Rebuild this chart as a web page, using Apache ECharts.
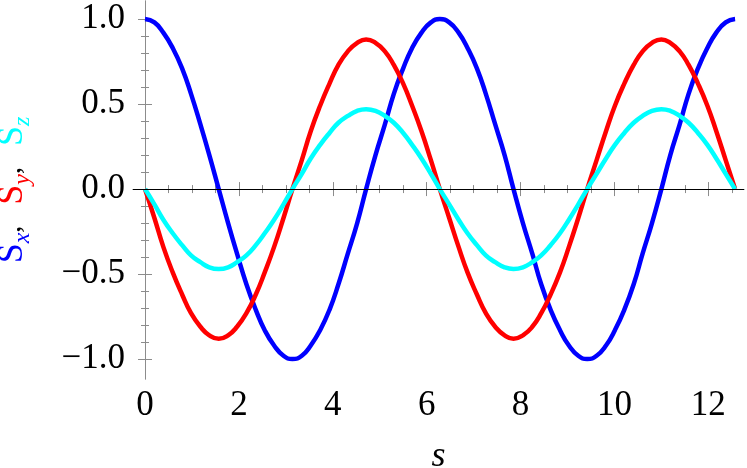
<!DOCTYPE html>
<html>
<head>
<meta charset="utf-8">
<script src="https://cdn.jsdelivr.net/npm/echarts@6/dist/echarts.min.js"></script>
<style>
  html, body { margin: 0; padding: 0; background: #fff; }
  #chart { width: 747px; height: 468px; }
</style>
</head>
<body>
<div id="chart"></div>
<script>
// s values (0 .. 4pi), step pi/16
const sVals = [0, 0.20, 0.39, 0.59, 0.79, 0.98, 1.18, 1.37, 1.57, 1.77, 1.96, 2.16, 2.36, 2.55, 2.75, 2.95,
  3.14, 3.34, 3.53, 3.73, 3.93, 4.12, 4.32, 4.52, 4.71, 4.91, 5.11, 5.30, 5.50, 5.69, 5.89, 6.09,
  6.28, 6.48, 6.68, 6.87, 7.07, 7.26, 7.46, 7.66, 7.85, 8.05, 8.25, 8.44, 8.64, 8.84, 9.03, 9.23,
  9.42, 9.62, 9.82, 10.01, 10.21, 10.41, 10.60, 10.80, 11.00, 11.19, 11.39, 11.58, 11.78, 11.98, 12.17, 12.37,
  12.57];
const sxVals = [1, 0.98, 0.92, 0.83, 0.71, 0.56, 0.38, 0.20, 0, -0.20, -0.38, -0.56, -0.71, -0.83, -0.92, -0.98,
  -1, -0.98, -0.92, -0.83, -0.71, -0.56, -0.38, -0.20, 0, 0.20, 0.38, 0.56, 0.71, 0.83, 0.92, 0.98,
  1, 0.98, 0.92, 0.83, 0.71, 0.56, 0.38, 0.20, 0, -0.20, -0.38, -0.56, -0.71, -0.83, -0.92, -0.98,
  -1, -0.98, -0.92, -0.83, -0.71, -0.56, -0.38, -0.20, 0, 0.20, 0.38, 0.56, 0.71, 0.83, 0.92, 0.98,
  1];
const syVals = [0, -0.17, -0.34, -0.49, -0.62, -0.73, -0.81, -0.86, -0.88, -0.86, -0.81, -0.73, -0.62, -0.49, -0.34, -0.17,
  0, 0.17, 0.34, 0.49, 0.62, 0.73, 0.81, 0.86, 0.88, 0.86, 0.81, 0.73, 0.62, 0.49, 0.34, 0.17,
  0, -0.17, -0.34, -0.49, -0.62, -0.73, -0.81, -0.86, -0.88, -0.86, -0.81, -0.73, -0.62, -0.49, -0.34, -0.17,
  0, 0.17, 0.34, 0.49, 0.62, 0.73, 0.81, 0.86, 0.88, 0.86, 0.81, 0.73, 0.62, 0.49, 0.34, 0.17,
  0];
const szVals = [0, -0.09, -0.18, -0.26, -0.33, -0.39, -0.43, -0.46, -0.47, -0.46, -0.43, -0.39, -0.33, -0.26, -0.18, -0.09,
  0, 0.09, 0.18, 0.26, 0.33, 0.39, 0.43, 0.46, 0.47, 0.46, 0.43, 0.39, 0.33, 0.26, 0.18, 0.09,
  0, -0.09, -0.18, -0.26, -0.33, -0.39, -0.43, -0.46, -0.47, -0.46, -0.43, -0.39, -0.33, -0.26, -0.18, -0.09,
  0, 0.09, 0.18, 0.26, 0.33, 0.39, 0.43, 0.46, 0.47, 0.46, 0.43, 0.39, 0.33, 0.26, 0.18, 0.09,
  0];

// ticks
const xMajor = [0, 2, 4, 6, 8, 10, 12];
const xMinor = [0.5, 1, 1.5, 2.5, 3, 3.5, 4.5, 5, 5.5, 6.5, 7, 7.5, 8.5, 9, 9.5, 10.5, 11, 11.5, 12.5];
const yMajor = [-1, -0.5, 0, 0.5, 1];
const yTickLabels = ['−1.0', '−0.5', '0.0', '0.5', '1.0'];
const yMinor = [-0.9, -0.8, -0.7, -0.6, -0.4, -0.3, -0.2, -0.1, 0.1, 0.2, 0.3, 0.4, 0.6, 0.7, 0.8, 0.9];

const frameColor = '#8c8c8c';
const serif = '"Liberation Serif", "Times New Roman", serif';
const xRange = { min: -0.256, max: 12.76 };
const yRange = { min: -1.117, max: 1.106 };

function xAx(pos, ticks, len, showLine, labels) {
  return {
    type: 'value', position: pos, min: xRange.min, max: xRange.max,
    axisLine: { show: showLine, lineStyle: { color: frameColor, width: 1 } },
    axisTick: { show: true, inside: true, length: len, customValues: ticks, lineStyle: { color: frameColor } },
    axisLabel: labels ? { show: true, customValues: ticks, margin: 9, color: '#000', fontFamily: serif, fontSize: 35 } : { show: false },
    splitLine: { show: false }
  };
}
function yAx(pos, ticks, len, showLine, labels) {
  return {
    type: 'value', position: pos, min: yRange.min, max: yRange.max,
    axisLine: { show: showLine, lineStyle: { color: frameColor, width: 1 } },
    axisTick: { show: true, inside: true, length: len, customValues: ticks, lineStyle: { color: frameColor } },
    axisLabel: labels ? {
      show: true, customValues: ticks, margin: 8, color: '#000', fontFamily: serif, fontSize: 35,
      formatter: function (v) {
        const i = yMajor.findIndex(t => Math.abs(t - v) < 1e-6);
        return i >= 0 ? yTickLabels[i] : '';
      }
    } : { show: false },
    splitLine: { show: false }
  };
}

const xAxes = [xAx('bottom', xMajor, 7, true, true), xAx('bottom', xMinor, 4, false, false),
  xAx('top', xMajor, 7, true, false), xAx('top', xMinor, 4, false, false)];
xAxes[0].name = 's';
xAxes[0].nameLocation = 'middle';
xAxes[0].nameGap = 60;
xAxes[0].nameTextStyle = { fontFamily: serif, fontStyle: 'italic', fontSize: 36, color: '#000' };

const yAxes = [yAx('left', yMajor, 7, true, true), yAx('left', yMinor, 4, false, false),
  yAx('right', yMajor, 7, true, false), yAx('right', yMinor, 4, false, false)];
yAxes[0].name = '{S1|S}{sx|x}{cm|,   }{S2|S}{sy|y}{cm|,   }{S3|S}{sz|z}';
yAxes[0].nameLocation = 'middle';
yAxes[0].nameGap = 98;
const subStyle = { fontFamily: serif, fontStyle: 'italic', fontSize: 24, lineHeight: 18, verticalAlign: 'bottom' };
const bigS = { fontFamily: serif, fontSize: 36, lineHeight: 44 };
yAxes[0].nameTextStyle = {
  fontFamily: serif, fontSize: 36,
  rich: {
    S1: Object.assign({ color: '#0000ff' }, bigS),
    sx: Object.assign({ color: '#0000ff' }, subStyle),
    S2: Object.assign({ color: '#ff0000' }, bigS),
    sy: Object.assign({ color: '#ff0000' }, subStyle),
    S3: Object.assign({ color: '#00ffff' }, bigS),
    sz: Object.assign({ color: '#00ffff' }, subStyle),
    cm: { fontFamily: serif, fontSize: 28, lineHeight: 44, color: '#000' }
  }
};

function pts(ys) { return sVals.map((s, i) => [s, ys[i]]); }
function line(name, ys, color, extra) {
  return Object.assign({
    name: name, type: 'line', xAxisIndex: 0, yAxisIndex: 0, data: pts(ys),
    smooth: true, showSymbol: false, symbol: 'none', silent: true,
    lineStyle: { color: color, width: 4.5, cap: 'butt', join: 'round' }
  }, extra || {});
}

const chart = echarts.init(document.getElementById('chart'), null, { renderer: 'canvas' });
chart.setOption({
  animation: false,
  backgroundColor: '#fff',
  grid: { left: 133, top: 1, width: 611, height: 378, outerBoundsMode: 'none', containLabel: false },
  xAxis: xAxes,
  yAxis: yAxes,
  series: [
    line('Sx', sxVals, '#0000ff', {
      markLine: {
        silent: true, symbol: 'none', label: { show: false },
        lineStyle: { color: '#000', width: 1, type: 'solid' },
        data: [{ yAxis: 0 }]
      }
    }),
    line('Sy', syVals, '#ff0000'),
    line('Sz', szVals, '#00ffff')
  ]
});
</script>
</body>
</html>
